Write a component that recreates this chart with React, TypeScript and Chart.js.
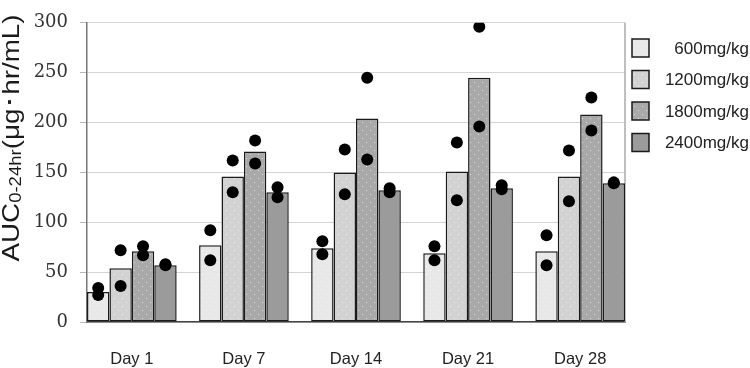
import React, { useEffect, useRef } from "react";
import { Chart, registerables } from "chart.js";
Chart.register(...registerables);

const categories = ["Day 1", "Day 7", "Day 14", "Day 21", "Day 28"];
const doseLabels = ["600mg/kg", "1200mg/kg", "1800mg/kg", "2400mg/kg"];
const mean600 = [30, 77, 74, 69, 71];
const mean1200 = [54, 146, 150, 151, 146];
const mean1800 = [71, 171, 204, 245, 208];
const mean2400 = [57, 130, 132, 134, 139];
const indiv600 = [[34, 27], [92, 62], [81, 68], [76, 62], [87, 57]];
const indiv1200 = [[72, 36], [162, 130], [173, 128], [180, 122], [172, 121]];
const indiv1800 = [[76, 67], [182, 159], [245, 163], [296, 196], [225, 192]];
const indiv2400 = [[58, 57], [135, 125], [134, 130], [137, 133], [140, 139]];
const yTicks = [0, 50, 100, 150, 200, 250, 300];

const baseColors = ["#e8e8e8", "#d2d2d2", "#a9a9a9", "#9b9b9b"];
const withDots = [true, true, true, false];

function dotPattern(base: string, dots: boolean) {
  const c = document.createElement("canvas");
  c.width = 8;
  c.height = 8;
  const g = c.getContext("2d")!;
  g.fillStyle = base;
  g.fillRect(0, 0, 8, 8);
  if (dots) {
    g.fillStyle = "rgba(255,255,255,0.6)";
    g.fillRect(2, 2, 1, 1);
    g.fillRect(6, 6, 1, 1);
  }
  return g.createPattern(c, "repeat")!;
}

const framePlugin = {
  id: "frame",
  beforeDatasetsDraw(chart: any) {
    const { ctx, chartArea } = chart;
    ctx.save();
    ctx.strokeStyle = "#aaaaaa";
    ctx.lineWidth = 1.5;
    ctx.beginPath();
    ctx.moveTo(chartArea.right, chartArea.top);
    ctx.lineTo(chartArea.right, chartArea.bottom);
    ctx.stroke();
    ctx.restore();
  },
};

const legendPlugin = {
  id: "customLegend",
  afterDraw(chart: any) {
    const { ctx } = chart;
    const bars = chart.data.datasets.filter((d: any) => d.type === "bar");
    ctx.save();
    const boxX = 632;
    const boxW = 17;
    const boxH = 18;
    const startY = 48;
    const gap = 31.5;
    bars.forEach((d: any, i: number) => {
      const cy = startY + i * gap;
      ctx.fillStyle = d.backgroundColor;
      ctx.fillRect(boxX, cy - boxH / 2, boxW, boxH);
      ctx.strokeStyle = "#1a1a1a";
      ctx.lineWidth = 1.5;
      ctx.strokeRect(boxX, cy - boxH / 2, boxW, boxH);
      ctx.fillStyle = "#222";
      ctx.font = "17px 'Liberation Sans', Arial, sans-serif";
      ctx.textAlign = "right";
      ctx.textBaseline = "middle";
      ctx.fillText(d.label, 749, cy + 1);
    });
    ctx.restore();
  },
};

const yTitlePlugin = {
  id: "yTitle",
  afterDraw(chart: any) {
    const { ctx } = chart;
    const mainFont = "24px 'Liberation Sans', Arial, sans-serif";
    const subFont = "16px 'Liberation Sans', Arial, sans-serif";
    const parts = [
      { t: "AUC", f: mainFont, dy: 0 },
      { t: "0-24hr", f: subFont, dy: 5 },
      { t: "(μg･hr/mL)", f: mainFont, dy: 0 },
    ];
    ctx.save();
    let total = 0;
    const widths = parts.map((p) => {
      ctx.font = p.f;
      const w = ctx.measureText(p.t).width;
      total += w;
      return w;
    });
    const stretch = 247 / total;
    ctx.translate(12, 138);
    ctx.rotate(-Math.PI / 2);
    ctx.scale(stretch, 1);
    ctx.fillStyle = "#1a1a1a";
    ctx.textBaseline = "middle";
    ctx.textAlign = "left";
    let x = -total / 2;
    parts.forEach((p, i) => {
      ctx.font = p.f;
      ctx.fillText(p.t, x, p.dy);
      x += widths[i];
    });
    ctx.restore();
  },
};

export default function App() {
  const ref = useRef<HTMLCanvasElement>(null);
  useEffect(() => {
    if (!ref.current) return;
    const means = [mean600, mean1200, mean1800, mean2400];
    const indiv = [indiv600, indiv1200, indiv1800, indiv2400];
    const barSets = means.map((m, j) => ({
      type: "bar" as const,
      label: doseLabels[j],
      data: m.map((v, i) => ({ x: i, y: v })),
      backgroundColor: dotPattern(baseColors[j], withDots[j]),
      borderColor: "#1a1a1a",
      borderWidth: 1.5,
      borderSkipped: false,
      categoryPercentage: 0.8,
      barPercentage: 1.0,
      order: 2,
    }));
    const pts: { x: number; y: number }[] = [];
    indiv.forEach((arr, j) => {
      arr.forEach((vals, i) => {
        vals.forEach((v) => pts.push({ x: i + (j - 1.5) * 0.2, y: v }));
      });
    });
    const chart = new Chart(ref.current, {
      type: "bar",
      data: {
        datasets: [
          ...barSets,
          {
            type: "scatter" as const,
            label: "individual",
            data: pts,
            backgroundColor: "#000",
            borderWidth: 0,
            pointRadius: 6,
            order: 1,
          } as any,
        ],
      },
      options: {
        responsive: false,
        animation: false,
        layout: { padding: { top: 12, right: 125, bottom: 0, left: 0 } },
        plugins: { legend: { display: false }, tooltip: { enabled: false } },
        scales: {
          x: {
            type: "linear",
            min: -0.4,
            max: 4.4,
            offset: false,
            afterBuildTicks: (s: any) => {
              s.ticks = categories.map((_, i) => ({ value: i }));
            },
            afterFit: (s: any) => {
              s.height = 46;
            },
            grid: { display: false, drawTicks: false },
            border: { display: true, color: "#444", width: 1.5 },
            ticks: {
              autoSkip: false,
              maxRotation: 0,
              padding: 28,
              color: "#222",
              font: { family: "'Liberation Sans', Arial, sans-serif", size: 16.5 },
              callback: (v: any) => categories[v as number] ?? "",
            },
          },
          y: {
            min: 0,
            max: 300,
            afterBuildTicks: (s: any) => {
              s.ticks = yTicks.map((v) => ({ value: v }));
            },
            afterFit: (s: any) => {
              s.width = 87;
            },
            grid: { color: "#d4d4d4", tickColor: "#b8b8b8", tickLength: 7, lineWidth: 1 },
            border: { display: true, color: "#777", width: 1.5 },
            ticks: {
              padding: 12,
              color: "#333",
              font: { family: "'DejaVu Serif', serif", size: 18 },
            },
          },
        },
      } as any,
      plugins: [framePlugin, legendPlugin, yTitlePlugin],
    });
    return () => chart.destroy();
  }, []);
  return (
    <div style={{ position: "fixed", left: 0, top: 0, width: 750, height: 368, background: "#fff" }}>
      <canvas ref={ref} width={750} height={368} style={{ display: "block" }} />
    </div>
  );
}
